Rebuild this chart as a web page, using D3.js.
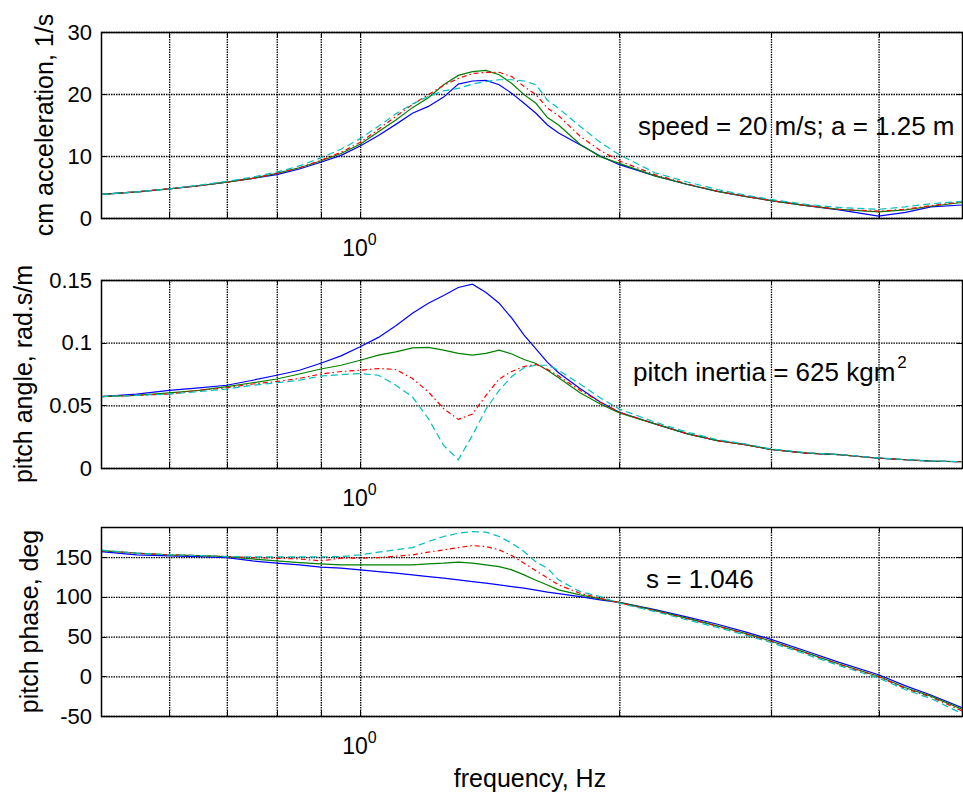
<!DOCTYPE html>
<html lang="en">
<head>
  <meta charset="UTF-8">
  <title>Pitch response vs frequency</title>
  <style>
    body { margin: 0; background: #fff; }
    svg { display: block; font-family: "Liberation Sans", Arial, sans-serif; }
  </style>
</head>
<body>
  <svg id="chart" width="963" height="796"></svg>

  <script src="https://d3js.org/d3.v7.min.js"></script>
  <script>
    const freq = [0.5, 0.55, 0.6, 0.65, 0.7, 0.75, 0.8, 0.85, 0.9, 0.95,
      1.0, 1.05, 1.1, 1.15, 1.2, 1.25, 1.3, 1.35, 1.4, 1.45,
      1.5, 1.55, 1.6, 1.65, 1.7, 1.8, 1.9, 2.0, 2.2, 2.4,
      2.6, 2.8, 3.0, 3.3, 3.6, 4.0, 4.3, 4.6, 5.0];

    // cm acceleration, 1/s
    const accBlue = [3.8, 4.2, 4.7, 5.2, 5.8, 6.4, 7.0, 7.9, 9.0, 10.1,
      11.6, 13.3, 15.1, 16.9, 18.0, 19.5, 21.6, 22.1, 22.2, 21.5,
      20.1, 18.5, 16.9, 15.0, 13.7, 11.8, 10.0, 8.6, 6.8, 5.4,
      4.3, 3.5, 2.8, 2.0, 1.3, 0.3, 0.9, 1.8, 2.1];
    const accGreen = [3.8, 4.2, 4.7, 5.2, 5.8, 6.4, 7.2, 8.1, 9.2, 10.4,
      11.9, 13.9, 15.8, 17.8, 19.4, 21.5, 23.0, 23.6, 23.8, 23.1,
      21.7, 19.9, 18.5, 16.2, 15.0, 11.9, 9.9, 8.8, 6.8, 5.4,
      4.3, 3.5, 2.8, 2.0, 1.4, 1.0, 1.3, 1.9, 2.5];
    const accRed = [3.8, 4.2, 4.7, 5.2, 5.8, 6.4, 7.2, 8.1, 9.3, 10.6,
      12.2, 14.3, 16.4, 18.3, 19.9, 21.4, 22.5, 23.3, 23.5, 23.5,
      22.8, 21.2, 19.9, 17.7, 16.5, 13.2, 10.9, 9.2, 7.0, 5.5,
      4.3, 3.5, 2.8, 2.0, 1.4, 1.1, 1.4, 2.0, 2.6];
    const accCyan = [3.8, 4.2, 4.7, 5.3, 5.9, 6.6, 7.4, 8.4, 9.7, 11.1,
      12.8, 14.8, 16.8, 18.4, 19.6, 20.5, 20.9, 21.6, 22.0, 22.3,
      22.3, 22.1, 21.5, 19.0, 17.7, 14.8, 12.2, 10.2, 7.3, 5.8,
      4.6, 3.7, 3.0, 2.2, 1.7, 1.4, 1.8, 2.3, 2.7];

    // pitch angle, rad.s/m
    const angBlue = [0.057, 0.059, 0.062, 0.064, 0.066, 0.070, 0.074, 0.078, 0.0836, 0.0895,
      0.0967, 0.1042, 0.1135, 0.1234, 0.1315, 0.1376, 0.144, 0.1467, 0.140, 0.1315,
      0.1195, 0.106, 0.095, 0.0843, 0.076, 0.0634, 0.0527, 0.0445, 0.0352, 0.0272,
      0.0218, 0.0186, 0.0148, 0.0119, 0.0106, 0.0078, 0.0066, 0.0055, 0.005];
    const angGreen = [0.057, 0.058, 0.060, 0.062, 0.065, 0.068, 0.071, 0.075, 0.079, 0.082,
      0.086, 0.090, 0.0927, 0.0959, 0.0962, 0.094, 0.0914, 0.090, 0.0914, 0.094,
      0.091, 0.0866, 0.0834, 0.078, 0.072, 0.060, 0.051, 0.044, 0.0352, 0.0272,
      0.0218, 0.0186, 0.0148, 0.0119, 0.0106, 0.0078, 0.0066, 0.0055, 0.005];
    const angRed = [0.057, 0.058, 0.059, 0.062, 0.064, 0.067, 0.069, 0.0715, 0.075, 0.077,
      0.078, 0.0794, 0.0786, 0.0714, 0.0607, 0.0474, 0.0388, 0.043, 0.058, 0.071,
      0.077, 0.081, 0.0827, 0.0787, 0.0734, 0.062, 0.0525, 0.0445, 0.0352, 0.0272,
      0.0218, 0.0186, 0.0148, 0.0119, 0.0106, 0.0078, 0.0066, 0.0055, 0.005];
    const angCyan = [0.057, 0.058, 0.059, 0.061, 0.063, 0.066, 0.068, 0.070, 0.0734, 0.0745,
      0.0754, 0.074, 0.066, 0.0567, 0.0394, 0.018, 0.0066, 0.026, 0.047, 0.062,
      0.073, 0.080, 0.082, 0.082, 0.078, 0.067, 0.056, 0.047, 0.0366, 0.0285,
      0.0226, 0.0192, 0.0152, 0.0122, 0.0108, 0.008, 0.0068, 0.0056, 0.005];

    // pitch phase, deg
    const phaseBlue = [157, 153, 151.6, 150.8, 149.5, 145.3, 142.4, 140.3, 137.4, 136.1,
      134, 131.9, 129.8, 127.7, 125.6, 123.5, 121.4, 119.3, 117.3, 115.1,
      113, 111, 108.5, 106, 104, 100.4, 96.2, 93, 84, 74.5,
      65.5, 56, 46.5, 31.5, 17.5, 2, -12, -23.5, -39.4];
    const phaseGreen = [158.3, 155, 153, 152, 150.8, 147.8, 145.3, 143.2, 141.6, 140.3,
      140.3, 140.3, 140.3, 140.3, 141.6, 142.4, 143.7, 142.4, 140.3, 138.2,
      134, 127.7, 121, 115, 108.8, 102.5, 97.4, 93, 83, 73,
      63.5, 54, 44.5, 29.5, 15.5, 0, -14.5, -25, -41.5];
    const phaseRed = [158.3, 155, 153, 152, 150.8, 149.5, 148.7, 147.8, 145.3, 148.7,
      148.7, 149.5, 151.3, 152.9, 156.3, 159.2, 162.1, 164.6, 163.4, 159.2,
      152, 142.4, 133, 124, 115.1, 104.6, 98.3, 92.5, 82.5, 72.5,
      63, 53.5, 44, 29, 15, -0.5, -15.5, -26, -43.6];
    const phaseCyan = [159, 155, 153, 152, 150.8, 150.4, 150.4, 150.4, 150.4, 150.8,
      152.9, 156.3, 159.2, 162.1, 169.7, 176, 180.2, 182.3, 181.5, 176,
      167.6, 157.1, 144, 136, 121.4, 106.7, 100.4, 92, 81.5, 71,
      61.5, 52, 42.5, 27.5, 13.5, -2, -17, -28, -46.9];

    // axis ticks and labels
    const xGridTicks = [0.6, 0.7, 0.8, 0.9, 1, 2, 3, 4];
    const accTicks = [0, 10, 20, 30];
    const accTickLabels = ["0", "10", "20", "30"];
    const angTicks = [0, 0.05, 0.1, 0.15];
    const angTickLabels = ["0", "0.05", "0.1", "0.15"];
    const phaseTicks = [-50, 0, 50, 100, 150];
    const phaseTickLabels = ["-50", "0", "50", "100", "150"];

    const lineColors = ["#0000ff", "#008000", "#ff0000", "#00bfbf"];
    const lineDash = [null, null, "5,3,1.5,3", "7,4"];

    const svg = d3.select("#chart");
    const left = 101, right = 962;

    const x = d3.scaleLog().domain([0.5, 5]).range([left, right]);

    const panels = [
      { top: 32, bottom: 218, domain: [0, 30], ticks: accTicks, labels: accTickLabels,
        series: [accBlue, accGreen, accRed, accCyan],
        ylabel: "cm acceleration, 1/s", labelX: 53,
        note: "speed = 20 m/s; a = 1.25 m", noteX: 638, noteY: 135 },
      { top: 280, bottom: 468, domain: [0, 0.15], ticks: angTicks, labels: angTickLabels,
        series: [angBlue, angGreen, angRed, angCyan],
        ylabel: "pitch angle, rad.s/m", labelX: 32,
        note: "pitch inertia = 625 kgm", sup: "2", noteX: 633, noteY: 381 },
      { top: 527, bottom: 716, domain: [-50, 188], ticks: phaseTicks, labels: phaseTickLabels,
        series: [phaseBlue, phaseGreen, phaseRed, phaseCyan],
        ylabel: "pitch phase, deg", labelX: 38,
        note: "s = 1.046", noteX: 646, noteY: 588 }
    ];

    panels.forEach((p, pi) => {
      const h = p.bottom - p.top;
      const y = d3.scaleLinear().domain(p.domain).range([p.bottom, p.top]);
      const g = svg.append("g");

      // dotted grid
      g.append("g")
        .attr("transform", `translate(0,${p.bottom})`)
        .call(d3.axisBottom(x).tickValues(xGridTicks).tickSize(-h).tickFormat(""))
        .call(a => a.select(".domain").remove())
        .selectAll("line").attr("stroke", "#000").attr("stroke-width", 1.3)
        .attr("stroke-dasharray", "1.5,1");
      g.append("g")
        .attr("transform", `translate(${left},0)`)
        .call(d3.axisLeft(y).tickValues(p.ticks).tickSize(-(right - left)).tickFormat(""))
        .call(a => a.select(".domain").remove())
        .selectAll("line").attr("stroke", "#000").attr("stroke-width", 1.3)
        .attr("stroke-dasharray", "1.5,1");

      // clip for the curves
      const clipId = "clip" + pi;
      svg.append("clipPath").attr("id", clipId)
        .append("rect").attr("x", left).attr("y", p.top)
        .attr("width", right - left).attr("height", h);

      const line = d3.line()
        .x((d, i) => x(freq[i]))
        .y(d => y(d));

      g.append("g").attr("clip-path", `url(#${clipId})`)
        .selectAll("path")
        .data(p.series)
        .join("path")
        .attr("d", line)
        .attr("fill", "none")
        .attr("stroke", (d, i) => lineColors[i])
        .attr("stroke-width", 1.2)
        .attr("stroke-dasharray", (d, i) => lineDash[i]);

      // box
      g.append("rect")
        .attr("x", left + 0.5).attr("y", p.top + 0.5)
        .attr("width", right - left).attr("height", h)
        .attr("fill", "none").attr("stroke", "#000").attr("stroke-width", 1.5);

      // small inward ticks on all sides
      [p.top, p.bottom].forEach(yy => {
        g.append("g")
          .selectAll("line")
          .data(xGridTicks)
          .join("line")
          .attr("x1", d => Math.round(x(d)) + 0.5).attr("x2", d => Math.round(x(d)) + 0.5)
          .attr("y1", yy).attr("y2", yy === p.top ? yy + 5 : yy - 5)
          .attr("stroke", "#000");
      });
      [left, right].forEach(xx => {
        g.append("g")
          .selectAll("line")
          .data(p.ticks)
          .join("line")
          .attr("y1", d => Math.round(y(d)) + 0.5).attr("y2", d => Math.round(y(d)) + 0.5)
          .attr("x1", xx).attr("x2", xx === left ? xx + 5 : xx - 5)
          .attr("stroke", "#000");
      });

      // y tick labels
      g.append("g")
        .attr("transform", `translate(${left},0)`)
        .call(d3.axisLeft(y).tickValues(p.ticks).tickSize(0).tickPadding(9)
          .tickFormat((d, i) => p.labels[i]))
        .call(a => a.select(".domain").remove())
        .selectAll("text")
        .attr("fill", "#000")
        .style("font-size", "22px")
        .style("font-family", "'Liberation Sans', Arial, sans-serif");

      // 10^0 under the decade
      const dec = g.append("text")
        .attr("x", x(1) - 18).attr("y", p.bottom + 38)
        .attr("fill", "#000")
        .style("font-size", "23px")
        .text("10");
      dec.append("tspan")
        .attr("dy", -11).style("font-size", "16px")
        .text("0");

      // y label
      g.append("text")
        .attr("transform", `translate(${p.labelX},${(p.top + p.bottom) / 2}) rotate(-90)`)
        .attr("text-anchor", "middle")
        .style("font-size", "25px")
        .text(p.ylabel);

      // annotation
      const note = g.append("text")
        .attr("x", p.noteX).attr("y", p.noteY)
        .style("font-size", "26px")
        .text(p.note);
      if (p.sup) {
        note.append("tspan")
          .attr("dx", 2).attr("dy", -13).style("font-size", "17px")
          .text(p.sup);
      }
    });

    // x axis title
    svg.append("text")
      .attr("x", 530).attr("y", 787)
      .attr("text-anchor", "middle")
      .style("font-size", "25px")
      .text("frequency, Hz");
  </script>
</body>
</html>
